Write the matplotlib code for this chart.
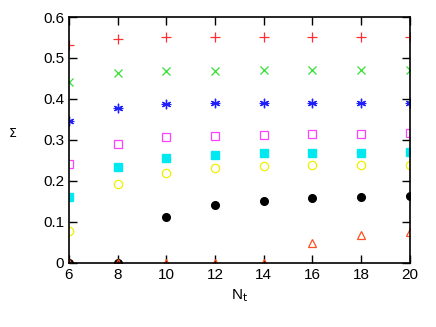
import matplotlib
matplotlib.use("Agg")
import matplotlib.pyplot as plt

plt.rcParams['font.family'] = ['Liberation Sans', 'DejaVu Sans']

nt = [6, 8, 10, 12, 14, 16, 18, 20]

s_plus = [0.532, 0.546, 0.551, 0.551, 0.551, 0.551, 0.551, 0.551]
s_cross = [0.441, 0.463, 0.468, 0.469, 0.470, 0.470, 0.470, 0.470]
s_star = [0.346, 0.377, 0.387, 0.390, 0.390, 0.390, 0.390, 0.390]
s_opensq = [0.241, 0.291, 0.306, 0.310, 0.313, 0.315, 0.315, 0.316]
s_fillsq = [0.160, 0.235, 0.256, 0.263, 0.267, 0.269, 0.269, 0.270]
s_opencirc = [0.077, 0.193, 0.220, 0.232, 0.237, 0.238, 0.239, 0.239]
s_fillcirc = [0.0, 0.0, 0.113, 0.141, 0.151, 0.158, 0.162, 0.164]
s_tri = [0.0, 0.0, 0.0, 0.0, 0.0, 0.048, 0.067, 0.076]

fig = plt.figure(figsize=(4.36, 3.27), dpi=100)
ax = fig.add_axes([0.158, 0.196, 0.782, 0.752])

ax.plot(nt, s_plus, ls='none', marker='+', ms=6.5, mew=0.9, color='#ff3030')
ax.plot(nt, s_cross, ls='none', marker='x', ms=6, mew=0.9, color='#30e030')
ax.plot(nt, s_star, ls='none', marker=(6, 2, 0), ms=6.5, mew=0.9, color='#2020ff')
ax.plot(nt, s_star, ls='none', marker='+', ms=6.5, mew=0.9, color='#2020ff')
ax.plot(nt, s_opensq, ls='none', marker='s', ms=6, mew=0.9, mfc='none', color='#ff40ff')
ax.plot(nt, s_fillsq, ls='none', marker='s', ms=5.5, color='#00e8f0')
ax.plot(nt, s_opencirc, ls='none', marker='o', ms=6, mew=0.9, mfc='none', color='#f0f000')
ax.plot(nt, s_fillcirc, ls='none', marker='o', ms=5.5, color='black')
ax.plot(nt, s_tri, ls='none', marker='^', ms=5.5, mew=0.9, mfc='none', color='#ff5020')

ax.set_xlim(6, 20)
ax.set_ylim(0, 0.6)
ax.set_xticks([6, 8, 10, 12, 14, 16, 18, 20])
ax.set_yticks([0, 0.1, 0.2, 0.3, 0.4, 0.5, 0.6])
ax.set_yticklabels(['0', '0.1', '0.2', '0.3', '0.4', '0.5', '0.6'])
ax.tick_params(direction='in', top=True, right=True, length=6, width=1, labelsize=11)
for sp in ax.spines.values():
    sp.set_linewidth(1.2)

ax.set_xlabel(r'N$_\mathrm{t}$', fontsize=11)
ax.set_ylabel(r'$\Sigma$', fontsize=9, rotation=0, labelpad=22)

fig.savefig('out.png', dpi=100)
